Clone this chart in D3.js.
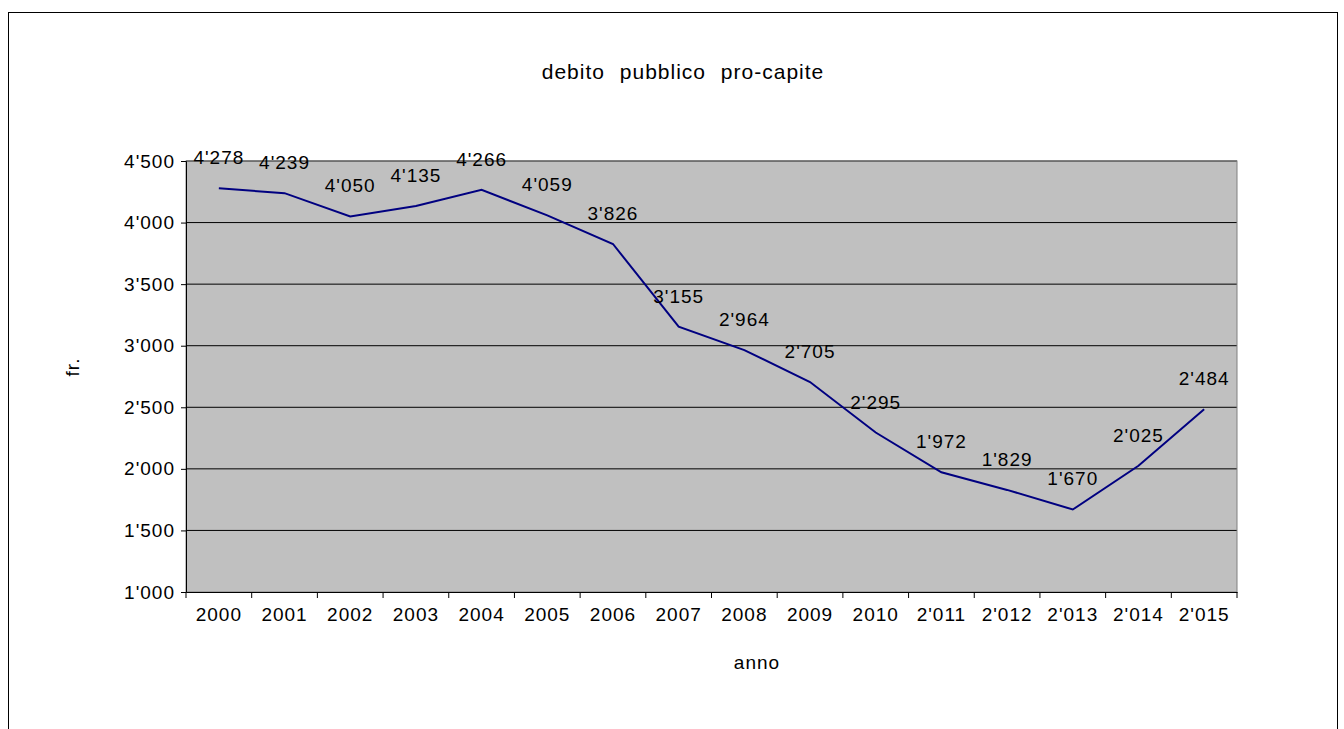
<!DOCTYPE html>
<html><head><meta charset="utf-8">
<script src="https://cdn.jsdelivr.net/npm/d3@7"></script>
<style>body{margin:0;background:#fff;font-family:"Liberation Sans",Arial,sans-serif;}
text{letter-spacing:1px;}</style>
</head><body>
<script>
const years = ["2000","2001","2002","2003","2004","2005","2006","2007","2008","2009","2010","2'011","2'012","2'013","2'014","2'015"];
const debt = [4278,4239,4050,4135,4266,4059,3826,3155,2964,2705,2295,1972,1829,1670,2025,2484];
const yTicks = [1000,1500,2000,2500,3000,3500,4000,4500];

const W = 1344, H = 729;
const margin = {top:161, right:107, bottom:137, left:186},
    width = W - margin.left - margin.right,
    height = H - margin.top - margin.bottom;
const fmt = v => d3.format(",")(v).replace(/,/g, "'");
const font = "19px 'Liberation Sans', Arial";

const root = d3.select("body").append("svg").attr("width", W).attr("height", H);
root.append("rect").attr("x",8.5).attr("y",12.5).attr("width",1329).attr("height",730)
    .attr("fill","#fff").attr("stroke","#000");

const svg = root.append("g").attr("transform","translate(" + margin.left + "," + margin.top + ")");

const x = d3.scaleBand().domain(years).range([0, width]);
const y = d3.scaleLinear().domain([1000, 4500]).range([height, 0]);

svg.append("rect").attr("width", width).attr("height", height).attr("fill","#c0c0c0");

// gridlines
svg.selectAll(".grid").data(yTicks.slice(1)).enter().append("line")
    .attr("x1",0).attr("x2",width)
    .attr("y1", d => y(d)).attr("y2", d => y(d))
    .attr("stroke","#000").attr("stroke-width",1);
svg.append("rect").attr("width", width).attr("height", height)
    .attr("fill","none").attr("stroke","#808080");

// Y axis
const ya = svg.append("g")
    .call(d3.axisLeft(y).tickValues(yTicks).tickFormat(fmt).tickSize(5).tickPadding(6));
ya.select(".domain").attr("stroke","#000");
ya.selectAll("text").style("font", font).attr("fill","#000");

// X axis, ticks at band boundaries
const xa = svg.append("g").attr("transform","translate(0," + height + ")")
    .call(d3.axisBottom(x).tickSize(0).tickPadding(16));
xa.select(".domain").attr("stroke","#000");
xa.selectAll("text").style("font", font).attr("fill","#000");
svg.append("g").selectAll("line").data(years.concat(["end"])).enter().append("line")
    .attr("x1", (d,i) => i * x.step()).attr("x2", (d,i) => i * x.step())
    .attr("y1", height).attr("y2", height + 6).attr("stroke","#000");

// line
const line = d3.line()
    .x((d,i) => x(years[i]) + x.bandwidth()/2)
    .y(d => y(d));
svg.append("path").datum(debt).attr("d", line)
    .attr("fill","none").attr("stroke","#000080").attr("stroke-width",2);

// labels
svg.selectAll(".lab").data(debt).enter().append("text")
    .attr("x", (d,i) => x(years[i]) + x.bandwidth()/2)
    .attr("y", d => y(d) - 24)
    .attr("text-anchor","middle")
    .style("font", font)
    .text(fmt);

// titles
root.append("text").attr("x",683).attr("y",79).attr("text-anchor","middle")
    .style("font","21px 'Liberation Sans', Arial").style("word-spacing","8px")
    .text("debito pubblico pro-capite");
root.append("text").attr("x",757).attr("y",669).attr("text-anchor","middle")
    .style("font", font).text("anno");
root.append("text").attr("transform","translate(79,367) rotate(-90)").attr("text-anchor","middle")
    .style("font", font).text("fr.");
</script>
</body></html>
